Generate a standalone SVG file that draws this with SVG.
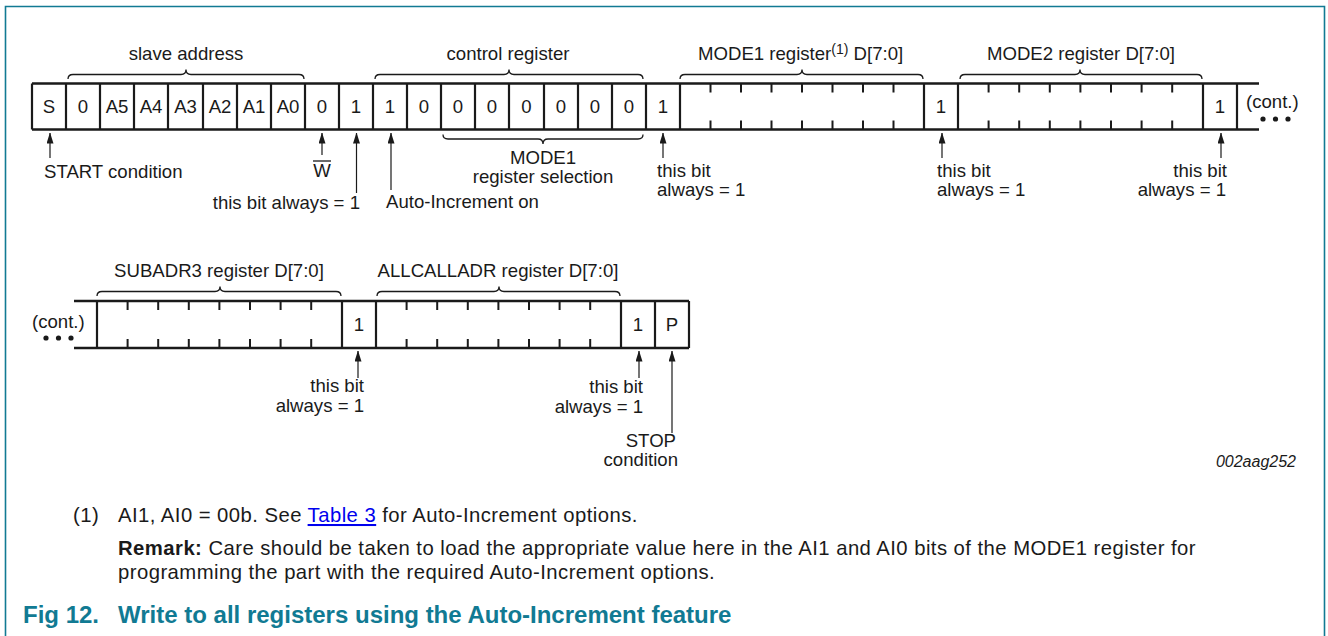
<svg xmlns="http://www.w3.org/2000/svg" width="1328" height="636" viewBox="0 0 1328 636">
<defs>
<style>
.t{font-family:"Liberation Sans",Arial,sans-serif;font-size:18.6px;fill:#1a1a1a}
.f{font-family:"Liberation Sans",Arial,sans-serif;font-size:20.3px;letter-spacing:0.45px;fill:#1a1a1a}
.cap{font-family:"Liberation Sans",Arial,sans-serif;font-size:24px;font-weight:bold;fill:#117a93}
.c{text-anchor:middle}
.e{text-anchor:end}
.box{stroke:#1a1a1a;stroke-width:2.6;fill:none}
.div{stroke:#1a1a1a;stroke-width:2.2;fill:none}
.tick{stroke:#1a1a1a;stroke-width:2;fill:none}
.brace{stroke:#1a1a1a;stroke-width:1.3;fill:none}
.arr{stroke:#1a1a1a;stroke-width:1.2;fill:none;marker-end:url(#ah)}
.dot{fill:#1a1a1a}
</style>
<marker id="ah" markerUnits="userSpaceOnUse" markerWidth="11" markerHeight="7" viewBox="0 0 11 7" refX="10.5" refY="3.5" orient="auto">
<path d="M0,0 L11,3.5 L0,7 Z" fill="#1a1a1a"/>
</marker>
</defs>
<rect width="1328" height="636" fill="#ffffff"/>
<path id="frame" d="M5.5,636 V6.5 H1324.5 V636" fill="none" stroke="#117a93" stroke-width="1.6"/>

<!-- Top row frame -->
<g id="row1">
<path class="box" d="M32,83.5 H1259 M32,129.5 H1259"/>
<path class="div" d="M32,83.5 V129.5 M66,83.5 V129.5 M100,83.5 V129.5 M134,83.5 V129.5 M168,83.5 V129.5 M203,83.5 V129.5 M237,83.5 V129.5 M271,83.5 V129.5 M305,83.5 V129.5 M339,83.5 V129.5 M373,83.5 V129.5 M407,83.5 V129.5 M441,83.5 V129.5 M475,83.5 V129.5 M509,83.5 V129.5 M544,83.5 V129.5 M578,83.5 V129.5 M612,83.5 V129.5 M646,83.5 V129.5 M680,83.5 V129.5 M924,83.5 V129.5 M958,83.5 V129.5 M1203,83.5 V129.5 M1237,83.5 V129.5"/>
</g>
<g id="start-bit"><text class="t c" x="49" y="113">S</text></g>
<g id="slave-address">
<text class="t c" x="83" y="113">0</text>
<text class="t c" x="117" y="113">A5</text>
<text class="t c" x="151" y="113">A4</text>
<text class="t c" x="185.5" y="113">A3</text>
<text class="t c" x="220" y="113">A2</text>
<text class="t c" x="254" y="113">A1</text>
<text class="t c" x="288" y="113">A0</text>
<path class="brace" d="M68,79 Q68,74.5 73,74.5 H181 Q186,74.5 186,69.5 Q186,74.5 191,74.5 H299 Q304,74.5 304,79"/>
<text class="t c" x="186" y="60">slave address</text>
</g>
<g id="rw-bit"><text class="t c" x="322" y="113">0</text></g>
<g id="ack1"><text class="t c" x="356" y="113">1</text></g>
<g id="control-register">
<text class="t c" x="390" y="113">1</text>
<text class="t c" x="424" y="113">0</text>
<text class="t c" x="458" y="113">0</text>
<text class="t c" x="492" y="113">0</text>
<text class="t c" x="526.5" y="113">0</text>
<text class="t c" x="561" y="113">0</text>
<text class="t c" x="595" y="113">0</text>
<text class="t c" x="629" y="113">0</text>
<path class="brace" d="M375,79 Q375,74.5 380,74.5 H504 Q509,74.5 509,69.5 Q509,74.5 514,74.5 H638 Q643,74.5 643,79"/>
<text class="t c" x="508" y="60">control register</text>
<path class="brace" d="M443,134.5 Q443,139 448,139 H538 Q543,139 543,144 Q543,139 548,139 H638 Q643,139 643,134.5"/>
<text class="t c" x="543" y="164">MODE1</text>
<text class="t c" x="543" y="183">register selection</text>
</g>
<g id="ack2"><text class="t c" x="663" y="113">1</text></g>
<g id="mode1-register">
<path class="tick" d="M710.5,83.5 v9 M741,83.5 v9 M771.5,83.5 v9 M802,83.5 v9 M832.5,83.5 v9 M863,83.5 v9 M893.5,83.5 v9 M710.5,129.5 v-9 M741,129.5 v-9 M771.5,129.5 v-9 M802,129.5 v-9 M832.5,129.5 v-9 M863,129.5 v-9 M893.5,129.5 v-9"/>
<path class="brace" d="M680,79 Q680,74.5 685,74.5 H797 Q802,74.5 802,69.5 Q802,74.5 807,74.5 H918 Q923,74.5 923,79"/>
<text class="t" x="698" y="60">MODE1 register<tspan font-size="14" dy="-6">(1)</tspan><tspan dy="6"> D[7:0]</tspan></text>
</g>
<g id="ack3"><text class="t c" x="941" y="113">1</text></g>
<g id="mode2-register">
<path class="tick" d="M988.6,83.5 v9 M1019.2,83.5 v9 M1049.8,83.5 v9 M1080.4,83.5 v9 M1111,83.5 v9 M1141.6,83.5 v9 M1172.2,83.5 v9 M988.6,129.5 v-9 M1019.2,129.5 v-9 M1049.8,129.5 v-9 M1080.4,129.5 v-9 M1111,129.5 v-9 M1141.6,129.5 v-9 M1172.2,129.5 v-9"/>
<path class="brace" d="M960,79 Q960,74.5 965,74.5 H1075 Q1080,74.5 1080,69.5 Q1080,74.5 1085,74.5 H1197 Q1202,74.5 1202,79"/>
<text class="t c" x="1081" y="60">MODE2 register D[7:0]</text>
</g>
<g id="ack4"><text class="t c" x="1220" y="113">1</text></g>
<g id="cont-top">
<text class="t" x="1246" y="108">(cont.)</text>
<circle class="dot" cx="1263" cy="119" r="2.6"/><circle class="dot" cx="1275.5" cy="119" r="2.6"/><circle class="dot" cx="1288" cy="119" r="2.6"/>
</g>

<!-- Bottom row -->
<g id="row2">
<path class="box" d="M74,301 H689 M74,348 H689"/>
<path class="div" d="M97,301 V348 M342,301 V348 M376,301 V348 M621,301 V348 M655,301 V348 M689,301 V348"/>
</g>
<g id="cont-bottom">
<text class="t" x="32" y="328">(cont.)</text>
<circle class="dot" cx="46" cy="338" r="2.6"/><circle class="dot" cx="58.5" cy="338" r="2.6"/><circle class="dot" cx="71" cy="338" r="2.6"/>
</g>
<g id="subadr3-register">
<path class="tick" d="M127.6,301 v9 M158.2,301 v9 M188.8,301 v9 M219.4,301 v9 M250,301 v9 M280.6,301 v9 M311.2,301 v9 M127.6,348 v-9 M158.2,348 v-9 M188.8,348 v-9 M219.4,348 v-9 M250,348 v-9 M280.6,348 v-9 M311.2,348 v-9"/>
<path class="brace" d="M97,296 Q97,291.5 102,291.5 H215 Q220,291.5 220,286.5 Q220,291.5 225,291.5 H336 Q341,291.5 341,296"/>
<text class="t c" x="219" y="277">SUBADR3 register D[7:0]</text>
</g>
<g id="ack5"><text class="t c" x="359" y="331">1</text></g>
<g id="allcalladr-register">
<path class="tick" d="M406.6,301 v9 M437.2,301 v9 M467.8,301 v9 M498.4,301 v9 M529,301 v9 M559.6,301 v9 M590.2,301 v9 M406.6,348 v-9 M437.2,348 v-9 M467.8,348 v-9 M498.4,348 v-9 M529,348 v-9 M559.6,348 v-9 M590.2,348 v-9"/>
<path class="brace" d="M377,296 Q377,291.5 382,291.5 H494 Q499,291.5 499,286.5 Q499,291.5 504,291.5 H615 Q620,291.5 620,296"/>
<text class="t c" x="498" y="277">ALLCALLADR register D[7:0]</text>
</g>
<g id="ack6"><text class="t c" x="638" y="331">1</text></g>
<g id="stop-bit"><text class="t c" x="672" y="331">P</text></g>

<!-- Connectors (annotation arrows) -->
<g id="connectors">
<path class="arr" d="M50,158 V133"/>
<path class="arr" d="M322,155 V133"/>
<path class="arr" d="M356.5,193 V133"/>
<path class="arr" d="M391,190 V133"/>
<path class="arr" d="M663,158 V133"/>
<path class="arr" d="M942,158 V133"/>
<path class="arr" d="M1221,158 V133"/>
<path class="arr" d="M358,378 V351"/>
<path class="arr" d="M639,378 V351"/>
<path class="arr" d="M672,433 V351"/>
</g>

<!-- Annotation labels -->
<g id="labels">
<text class="t" x="44" y="178">START condition</text>
<text class="t c" x="322" y="177">W</text>
<path d="M313,161 H331" stroke="#1a1a1a" stroke-width="1.3"/>
<text class="t e" x="360" y="209">this bit always = 1</text>
<text class="t" x="386" y="208">Auto-Increment on</text>
<text class="t" x="657" y="177">this bit</text>
<text class="t" x="657" y="196">always = 1</text>
<text class="t" x="937" y="177">this bit</text>
<text class="t" x="937" y="196">always = 1</text>
<text class="t e" x="1227" y="177">this bit</text>
<text class="t e" x="1226" y="196">always = 1</text>
<text class="t e" x="364" y="392">this bit</text>
<text class="t e" x="364" y="412">always = 1</text>
<text class="t e" x="643" y="393">this bit</text>
<text class="t e" x="643" y="413">always = 1</text>
<text class="t e" x="676" y="447">STOP</text>
<text class="t e" x="678" y="466">condition</text>
<text class="t e" x="1296" y="467" style="font-size:16px;font-style:italic">002aag252</text>
</g>

<!-- Footnote and caption -->
<g id="footnote">
<text class="f" x="73" y="522">(1)</text>
<text class="f" x="118" y="522">AI1, AI0 = 00b. See <tspan fill="#0000ee" text-decoration="underline" style="text-decoration:underline">Table 3</tspan> for Auto-Increment options.</text>
<text class="f" x="118" y="555"><tspan font-weight="bold">Remark:</tspan> Care should be taken to load the appropriate value here in the AI1 and AI0 bits of the MODE1 register for</text>
<text class="f" x="118" y="578.5">programming the part with the required Auto-Increment options.</text>
</g>
<g id="caption">
<text class="cap" x="23" y="623">Fig 12.</text>
<text class="cap" x="118" y="623">Write to all registers using the Auto-Increment feature</text>
</g>
</svg>
